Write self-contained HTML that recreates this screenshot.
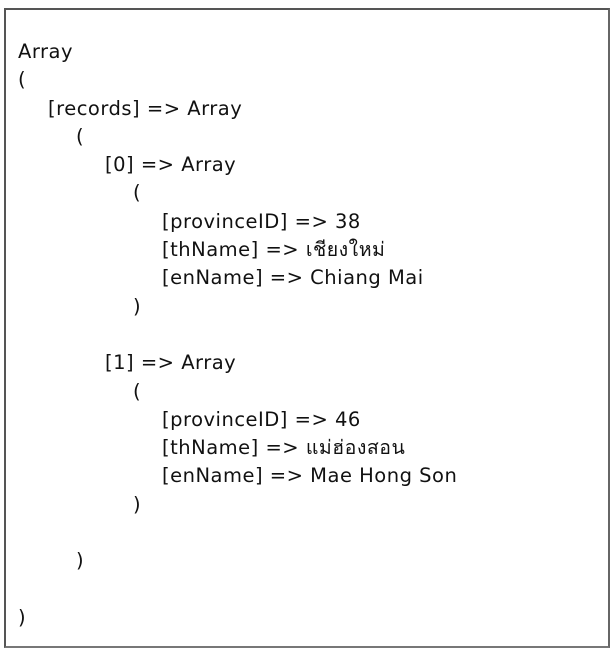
<!DOCTYPE html>
<html><head><meta charset="utf-8"><style>
html,body{margin:0;padding:0;background:#fff;width:614px;height:652px;overflow:hidden}
.box{position:absolute;left:4px;top:8px;width:602px;height:636px;border:2px solid #555;border-right-color:#666;border-bottom-color:#777;background:#fff}
.t{position:absolute;left:12px;top:28px;font-family:"DejaVu Sans","Noto Sans CJK SC",sans-serif;font-size:19.5px;letter-spacing:0.5px;line-height:28.3px;color:#111;white-space:pre}
</style></head><body>
<div class="box"><div class="t"><div>Array</div><div>(</div><div style="padding-left:30px">[records] =&gt; Array</div><div style="padding-left:58px">(</div><div style="padding-left:87px">[0] =&gt; Array</div><div style="padding-left:115px">(</div><div style="padding-left:144px">[provinceID] =&gt; 38</div><div style="padding-left:144px">[thName] =&gt; เชียงใหม่</div><div style="padding-left:144px">[enName] =&gt; Chiang Mai</div><div style="padding-left:115px">)</div><div>&nbsp;</div><div style="padding-left:87px">[1] =&gt; Array</div><div style="padding-left:115px">(</div><div style="padding-left:144px">[provinceID] =&gt; 46</div><div style="padding-left:144px">[thName] =&gt; แม่ฮ่องสอน</div><div style="padding-left:144px">[enName] =&gt; Mae Hong Son</div><div style="padding-left:115px">)</div><div>&nbsp;</div><div style="padding-left:58px">)</div><div>&nbsp;</div><div>)</div></div></div>
</body></html>
